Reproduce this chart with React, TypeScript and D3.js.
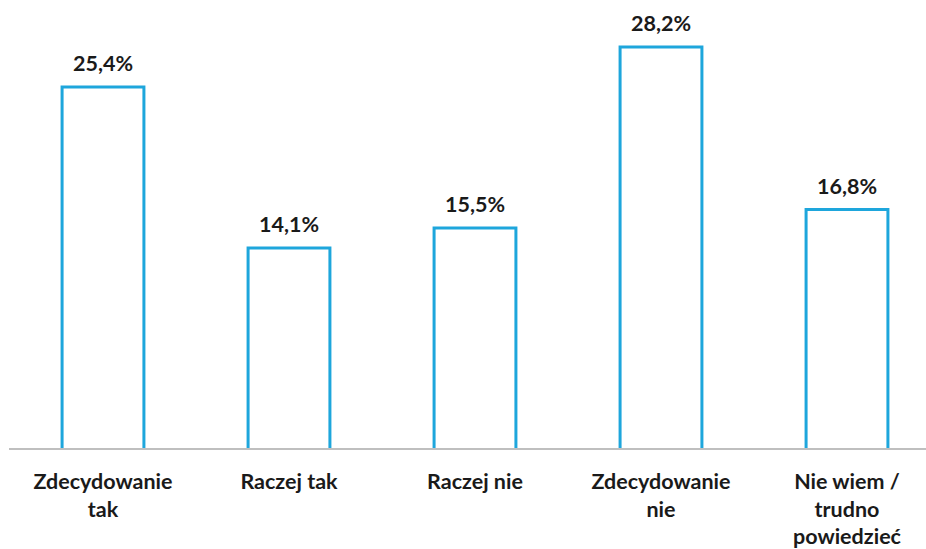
import React from 'react'
import * as d3 from 'd3'

const categories = [['Zdecydowanie', 'tak'], ['Raczej tak'], ['Raczej nie'], ['Zdecydowanie', 'nie'], ['Nie wiem /', 'trudno', 'powiedzieć']]
const values = [25.4, 14.1, 15.5, 28.2, 16.8]
const valueLabels = ['25,4%', '14,1%', '15,5%', '28,2%', '16,8%']

const width = 926
const height = 549
const baseY = 449
const font = 'Lato, "Open Sans", sans-serif'

export default function App() {
  const x = d3.scaleBand<number>()
    .domain(d3.range(values.length))
    .range([10, 940])
    .paddingInner(0.56)
    .paddingOuter(0.28)

  const y = d3.scaleLinear()
    .domain([0, 28.2])
    .range([baseY, 47])

  return (
    <svg width={width} height={height} style={{ position: 'absolute', left: 0, top: 0, background: '#fff' }}>
      <line x1={9} x2={width} y1={baseY} y2={baseY} stroke="#bfbfbf" strokeWidth={2} />
      {values.map((v, i) => (
        <g key={i}>
          <path
            d={`M${x(i)},${baseY - 1}V${y(v)}H${x(i)! + x.bandwidth()}V${baseY - 1}`}
            fill="#fff"
            stroke="#1ea6dc"
            strokeWidth={3}
          />
          <text
            x={x(i)! + x.bandwidth() / 2}
            y={y(v) - 16}
            textAnchor="middle"
            fontFamily={font}
            fontWeight="bold"
            fontSize={21.5}
            fill="#1a1a1a"
          >{valueLabels[i]}</text>
          <text
            x={x(i)! + x.bandwidth() / 2}
            y={489}
            textAnchor="middle"
            fontFamily={font}
            fontWeight="bold"
            fontSize={21.5}
            fill="#1a1a1a"
          >
            {categories[i].map((line, j) => (
              <tspan key={j} x={x(i)! + x.bandwidth() / 2} dy={j === 0 ? 0 : 27.5}>{line}</tspan>
            ))}
          </text>
        </g>
      ))}
    </svg>
  )
}
